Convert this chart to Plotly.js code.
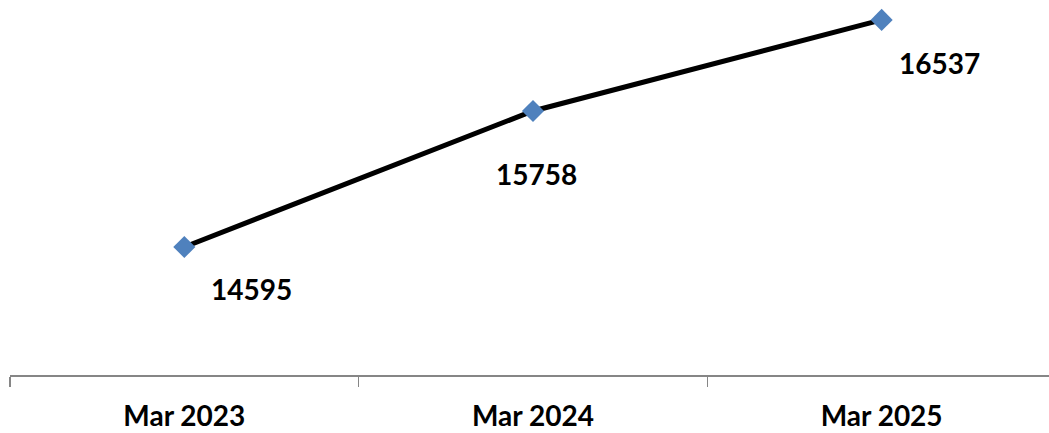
<!DOCTYPE html>
<html>
<head>
<meta charset="utf-8">
<script src="https://cdn.plot.ly/plotly-3.0.1.min.js"></script>
<style>html,body{margin:0;padding:0;background:#fff;}#chart{width:1049px;height:433px;}</style>
</head>
<body>
<div id="chart"></div>
<script>
const categories = ["Mar 2023", "Mar 2024", "Mar 2025"];
const values = [14595, 15758, 16537];

// label offsets (pixels) relative to each point
const labelShiftX = [67, 4, 58];
const labelShiftY = [-42, -63, -43];

const font = "Lato, 'Liberation Sans', Arial, sans-serif";

const trace = {
  x: categories,
  y: values,
  type: "scatter",
  mode: "lines+markers",
  line: {color: "#000000", width: 5},
  marker: {symbol: "diamond", size: 17, color: "#4F81BD", line: {width: 0}},
  hoverinfo: "skip"
};

const annotations = categories.map((c, i) => ({
  x: c, y: values[i], xref: "x", yref: "y",
  text: String(values[i]), showarrow: false,
  xshift: labelShiftX[i], yshift: labelShiftY[i],
  font: {family: font, size: 28, color: "#000000", weight: "bold"}
}));

const layout = {
  width: 1049, height: 433,
  margin: {l: 10, r: 0, t: 0, b: 58},
  paper_bgcolor: "#ffffff", plot_bgcolor: "#ffffff",
  showlegend: false,
  xaxis: {
    type: "category",
    range: [-0.5, 2.48],
    tickson: "boundaries",
    ticks: "outside", ticklen: 10, tickwidth: 1.5, tickcolor: "#868686",
    showline: true, linecolor: "#868686", linewidth: 1.5,
    showgrid: false, zeroline: false,
    tickfont: {family: font, size: 28, color: "#000000", weight: "bold"},
    ticklabelstandoff: 16
  },
  yaxis: {
    range: [13500, 16707],
    visible: false, showgrid: false, zeroline: false
  },
  annotations: annotations
};

Plotly.newPlot("chart", [trace], layout, {displayModeBar: false, staticPlot: true});
</script>
</body>
</html>
